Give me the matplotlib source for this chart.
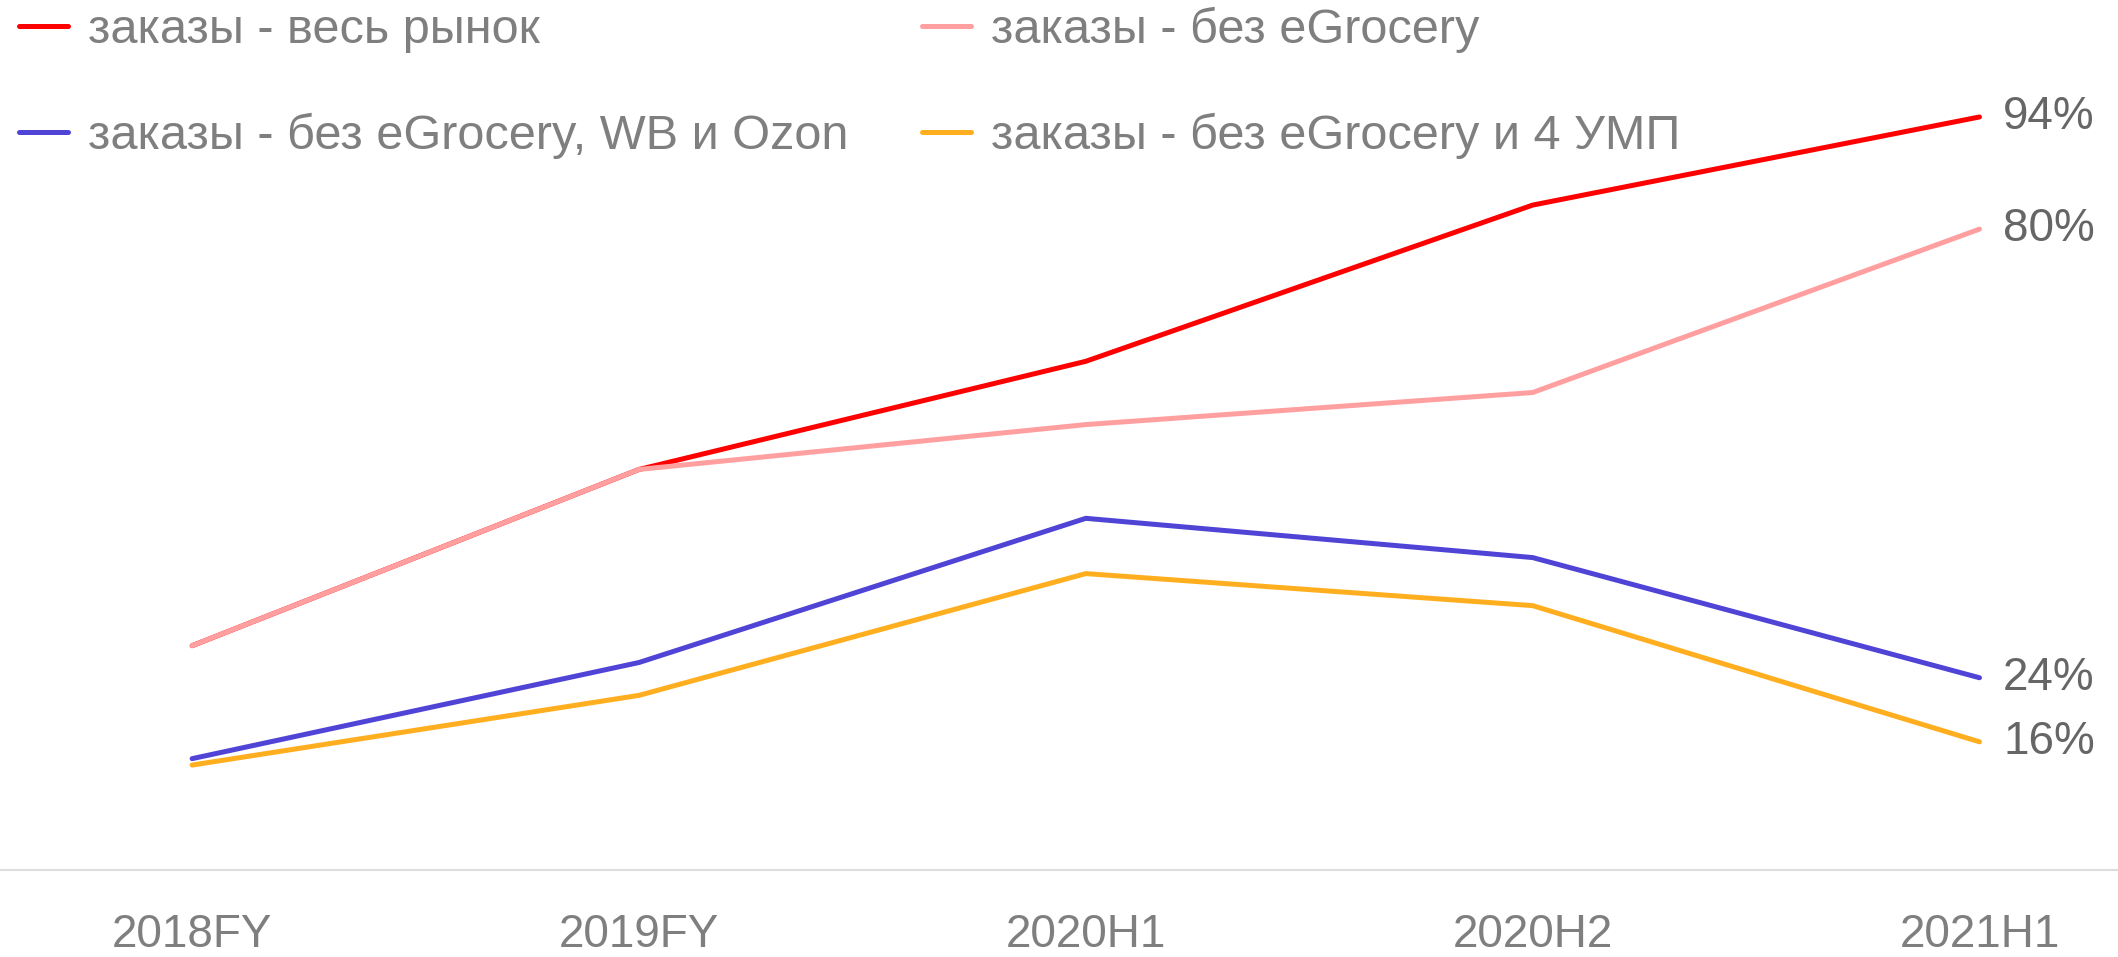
import matplotlib
matplotlib.use("Agg")
import matplotlib.pyplot as plt

plt.rcParams['font.family'] = ['Liberation Sans', 'DejaVu Sans']

# Данные
periods = ['2018FY', '2019FY', '2020H1', '2020H2', '2021H1']
all_market = [28, 50, 63.5, 83, 94]
no_egrocery = [28, 50, 55.6, 59.6, 80]
no_eg_wb_ozon = [13.9, 25.9, 43.9, 39, 24]
no_eg_4ump = [13.1, 21.8, 37, 33, 16]

labels = ['заказы - весь рынок', 'заказы - без eGrocery',
          'заказы - без eGrocery, WB и Ozon', 'заказы - без eGrocery и 4 УМП']
colors = ['#ff0000', '#ff9f9f', '#4f44d6', '#ffae1f']
series = [all_market, no_egrocery, no_eg_wb_ozon, no_eg_4ump]

fig = plt.figure(figsize=(21.18, 9.57), dpi=100)
ax = fig.add_axes([0, 0.0909, 1, 0.9091])

x = list(range(len(periods)))
lines = []
for vals, col, lab in zip(series, colors, labels):
    ln, = ax.plot(x, vals, color=col, lw=3.6, solid_capstyle='round', label=lab)
    lines.append(ln)
    ax.annotate(f'{vals[-1]:.0f}%', (x[-1], vals[-1]), xytext=(17, 0),
                textcoords='offset points', va='center', ha='left',
                fontsize=33, color='#666666')

ax.set_xlim(-0.43, 4.31)
ax.set_ylim(0, 108.6)
ax.set_xticks(x)
ax.set_xticklabels(periods)
ax.tick_params(axis='x', length=0, pad=31, labelsize=33, labelcolor='#7f7f7f')
ax.set_yticks([])
for s in ['top', 'left', 'right']:
    ax.spines[s].set_visible(False)
ax.spines['bottom'].set_color('#dddddd')
ax.spines['bottom'].set_linewidth(1.5)

# легенда в две колонки: строки (весь рынок | без eGrocery), (без WB/Ozon | без 4 УМП)
order = [0, 2, 1, 3]
leg = fig.legend([lines[i] for i in order], [labels[i] for i in order],
                 ncol=2, loc='upper left', bbox_to_anchor=(0.009, 0.993),
                 frameon=False, fontsize=35, labelcolor='#7f7f7f',
                 handlelength=1.0, handletextpad=0.42, columnspacing=1.52,
                 labelspacing=1.24, borderpad=0.0, borderaxespad=0)

fig.savefig('out.png', dpi=100)
